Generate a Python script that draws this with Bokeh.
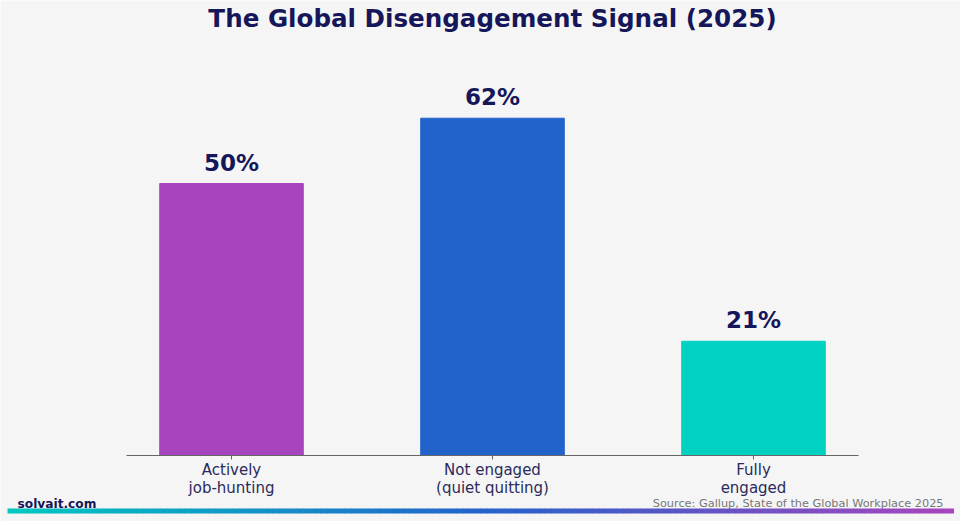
from bokeh.plotting import figure
from bokeh.models import ColumnDataSource, FixedTicker, Range1d
from bokeh.core.properties import value
from bokeh.embed import file_html
from bokeh.resources import INLINE

categories = ["Actively\njob-hunting", "Not engaged\n(quiet quitting)", "Fully\nengaged"]
values = [50, 62, 21]
value_labels = ["50%", "62%", "21%"]
colors = ["#a844be", "#2262cb", "#00d1c1"]
title_text = "The Global Disengagement Signal (2025)"
source_text = "Source: Gallup, State of the Global Workplace 2025"
brand_text = "solvait.com"

BG = "#f5f5f5"
NAVY = "#16165a"
W, H = 960, 521

# layout geometry (pixels)
UNIT_X = 261.0     # pixels per category step
X0_PX = 231.0      # centre of first category
AXIS_PX = 455.0    # baseline position from top
UNIT_Y = 5.44      # pixels per percentage point

xs = list(range(len(categories)))
src = ColumnDataSource(dict(x=xs, top=values, label=value_labels, color=colors))

p = figure(width=W, height=H, output_backend="svg", toolbar_location=None,
           x_range=Range1d(-X0_PX / UNIT_X, (W - X0_PX) / UNIT_X),
           y_range=Range1d(-(H - AXIS_PX) / UNIT_Y, AXIS_PX / UNIT_Y),
           min_border=0, background_fill_color=BG, border_fill_color=BG)
p.extra_x_ranges = {"px": Range1d(0, W)}
p.extra_y_ranges = {"px": Range1d(H, 0)}
p.outline_line_color = None
p.grid.visible = False
p.yaxis.visible = False

p.vbar(x="x", top="top", width=0.55, color="color", source=src)
p.text(x="x", y="top", text="label", source=src, text_align="center", text_baseline="bottom",
       y_offset=-8, text_font=value("DejaVu Sans"), text_font_style="bold",
       text_font_size="23px", text_color=NAVY)

ax = p.xaxis[0]
ax.fixed_location = 0
ax.bounds = (-0.402, len(categories) - 1 + 0.402)
ax.ticker = FixedTicker(ticks=xs)
ax.major_label_overrides = {i: c for i, c in enumerate(categories)}
ax.axis_line_color = "#666666"
ax.major_tick_line_color = "#666666"
ax.major_tick_out = 4
ax.major_tick_in = 0
ax.minor_tick_line_color = None
ax.major_label_text_font = "DejaVu Sans"
ax.major_label_text_font_size = "15px"
ax.major_label_text_color = "#2a2a5c"
ax.major_label_text_line_height = 1.0
ax.major_label_standoff = 1

# title and footer (pixel coordinates)
p.text(x=[492], y=[18], text=[title_text], x_range_name="px", y_range_name="px",
       text_align="center", text_baseline="middle", text_font=value("DejaVu Sans"),
       text_font_style="bold", text_font_size="24.6px", text_color=NAVY)
p.text(x=[17], y=[503], text=[brand_text], x_range_name="px", y_range_name="px",
       text_align="left", text_baseline="alphabetic", text_font=value("DejaVu Sans"),
       text_font_style="bold", text_font_size="12.2px", text_color=NAVY)
p.text(x=[943], y=[503], text=[source_text], x_range_name="px", y_range_name="px",
       text_align="right", text_baseline="alphabetic", text_font=value("DejaVu Sans"),
       text_font_size="11.3px", text_color="#777777")

# decorative gradient strip
stops = [(0.0, (0, 200, 192)), (0.5, (34, 98, 203)), (1.0, (168, 68, 190))]
n = 160
x0, x1 = 7, 953
lefts, rights, cols = [], [], []
for i in range(n):
    t = (i + 0.5) / n
    for (a, ca), (b, cb) in zip(stops[:-1], stops[1:]):
        if a <= t <= b:
            fr = (t - a) / (b - a)
            c = tuple(int(round(ca[k] + (cb[k] - ca[k]) * fr)) for k in range(3))
            break
    cols.append("#%02x%02x%02x" % c)
    lefts.append(x0 + (x1 - x0) * i / n)
    rights.append(x0 + (x1 - x0) * (i + 1) / n + 0.5)
p.quad(left=lefts, right=rights, top=[508] * n, bottom=[513] * n, color=cols,
       line_color=None, x_range_name="px", y_range_name="px")

open("out.html", "w").write(file_html(p, INLINE))
